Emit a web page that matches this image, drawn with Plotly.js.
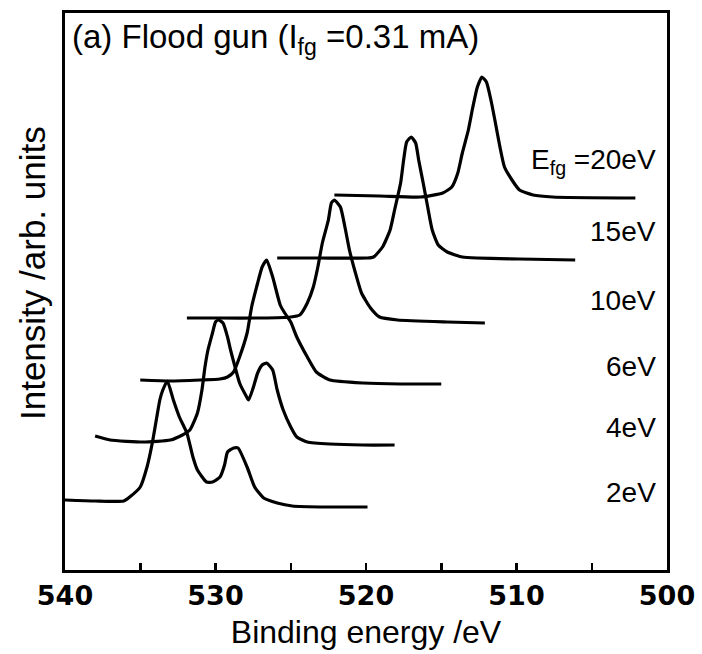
<!DOCTYPE html>
<html>
<head>
<meta charset="utf-8">
<script src="https://cdn.plot.ly/plotly-3.0.1.min.js"></script>
<style>html,body{margin:0;padding:0;background:#fff;}#chart{width:702px;height:654px;}</style>
</head>
<body>
<div id="chart"></div>
<script>
// Binding energy (eV) and intensity (arb. units, vertically offset spectra)
const be2  = [540.0,538.0,536.1,535.7,535.0,534.55,534.2,533.9,533.7,533.5,533.2,532.8,532.4,531.9,531.5,531.2,530.6,530.2,529.7,529.4,529.2,528.8,528.5,527.9,527.4,526.8,525.9,524.9,522.6,519.9];
const int2 = [70,69,69,73,83,103,127,153,170,180,189,170,153,137,113,100,88,88,93,105,118,122,122,103,83,72,67,64,63,63];

const be4  = [538.0,537.0,534.8,533.0,532.2,531.7,531.2,530.9,530.7,530.5,530.2,530.0,529.8,529.5,529.2,529.0,528.7,528.4,528.0,527.8,527.5,527.2,526.9,526.6,526.2,525.9,525.5,525.0,524.6,523.9,522.4,520.2,518.1];
const int4 = [134,130,128,130,135,140,157,180,203,220,237,248,250,247,233,220,203,187,175,170,182,197,205,207,200,180,160,143,133,128,126,125,125];

const be6  = [535.0,533.0,531.0,529.7,529.2,528.8,528.4,527.9,527.6,527.2,526.9,526.6,526.2,525.7,525.4,525.0,524.6,523.9,523.3,522.4,520.2,517.7,515.0];
const int6 = [190,189,190,191,193,198,213,237,263,287,303,310,293,265,257,248,233,213,198,190,187,186,186];

const be10  = [531.9,529.7,527.0,525.0,524.4,523.9,523.5,523.2,522.9,522.5,522.3,522.1,521.7,521.4,521.1,520.7,520.3,519.7,519.1,517.9,514.6,512.1];
const int10 = [252,252,252,253,255,267,283,303,327,350,367,370,363,343,320,297,277,262,253,250,248,247];

const be15  = [525.9,523.1,519.9,519.5,518.9,518.4,518.1,517.7,517.5,517.3,517.0,516.7,516.5,516.2,515.9,515.6,515.2,514.6,513.6,509.8,506.1];
const int15 = [312,312,312,313,323,340,360,387,410,428,433,427,410,387,363,340,325,318,313,311,310];

const be20  = [522.1,519.1,516.4,514.9,514.3,513.9,513.6,513.2,512.9,512.6,512.3,512.0,511.7,511.4,511.1,510.8,510.3,509.8,508.9,507.6,502.1];
const int20 = [375,374,373,377,383,397,417,440,463,483,493,488,470,447,423,403,390,380,375,373,372];

const seriesNames = ['2eV','4eV','6eV','10eV','15eV','20eV'];
const seriesLabels = ['2eV','4eV','6eV','10eV','15eV','E<sub>fg</sub> =20eV'];
const majorTickVals = [540,530,520,510,500];
const majorTickText = ['540','530','520','510','500'];
const minorTickVals = [535,525,515,505];

const xs = [be2,be4,be6,be10,be15,be20];
const ys = [int2,int4,int6,int10,int15,int20];

const traces = xs.map((x,i)=>({
  type:'scatter', mode:'lines', x:x, y:ys[i], name:seriesNames[i],
  line:{color:'black', width:3.2, shape:'spline', smoothing:0.5}, hoverinfo:'skip'
}));

const sans = 'Liberation Sans, Arial, Helvetica, sans-serif';
const labelY = [0.140,0.2567,0.3645,0.4847,0.6086,0.7325];
const annotations = seriesLabels.map((t,i)=>({
  text:t, xref:'paper', yref:'paper', x:0.985, y:labelY[i],
  xanchor:'right', yanchor:'middle', showarrow:false,
  font:{family:sans, size:28, color:'black'}
}));
annotations.push({
  text:'(a) Flood gun (I<sub>fg</sub> =0.31 mA)', xref:'paper', yref:'paper',
  x:0.008, y:0.953, xanchor:'left', yanchor:'middle', showarrow:false,
  font:{family:sans, size:33, color:'black'}
});
annotations.push({
  text:'Intensity /arb. units', xref:'paper', yref:'paper',
  x:-0.055, y:0.533, xanchor:'center', yanchor:'middle', textangle:-90, showarrow:false,
  font:{family:sans, size:35, color:'black'}
});

const layout = {
  width:702, height:654,
  margin:{l:65, r:35, t:13, b:84},
  paper_bgcolor:'white', plot_bgcolor:'white',
  showlegend:false,
  xaxis:{
    range:[540,500], tickmode:'array', tickvals:majorTickVals, ticktext:majorTickText,
    ticks:'inside', ticklen:7, tickwidth:2.5, tickcolor:'black',
    minor:{tickmode:'array', tickvals:minorTickVals, ticks:'inside', ticklen:7, tickwidth:2.5, tickcolor:'black', showgrid:false},
    showline:true, mirror:true, linecolor:'black', linewidth:3,
    showgrid:false, zeroline:false,
    tickfont:{family:'DejaVu Sans, sans-serif', size:27, weight:'bold', color:'black'},
    title:{text:'Binding energy /eV', font:{family:sans, size:32, color:'black'}, standoff:11}
  },
  yaxis:{
    range:[0,557], showticklabels:false, ticks:'',
    showline:true, mirror:true, linecolor:'black', linewidth:3,
    showgrid:false, zeroline:false
  },
  annotations:annotations
};

Plotly.newPlot('chart', traces, layout, {displayModeBar:false, staticPlot:true});
</script>
</body>
</html>
